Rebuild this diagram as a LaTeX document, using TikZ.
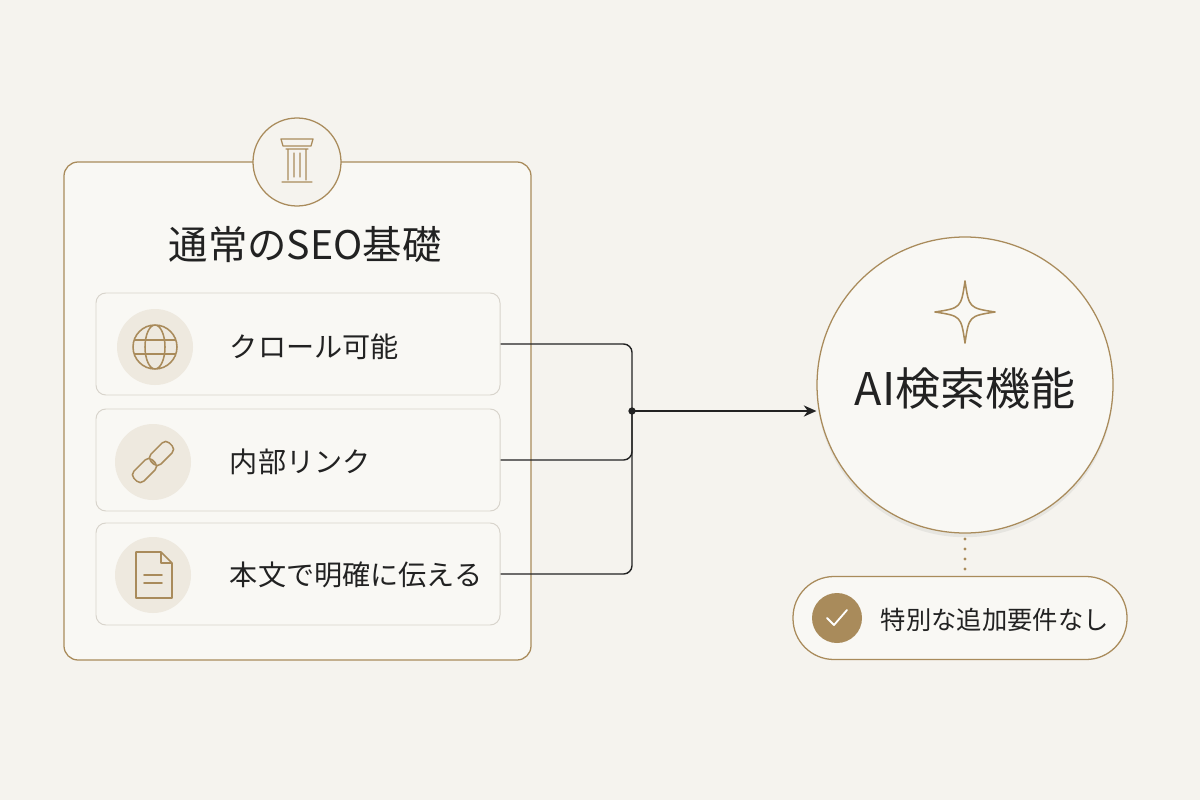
\documentclass[tikz,border=0pt]{standalone}
\usepackage{fontspec}
\setmainfont{Noto Sans CJK JP}
\usetikzlibrary{positioning,shadows,arrows.meta}
\definecolor{bg}{HTML}{F5F3EE}
\definecolor{gold}{HTML}{A98B5B}
\definecolor{cardbg}{HTML}{F9F8F4}
\definecolor{itemline}{HTML}{D8D4CC}
\definecolor{iconbg}{HTML}{EEE9DF}
\definecolor{ink}{HTML}{222222}
\tikzset{
  card/.style={draw=gold,line width=0.9pt,fill=cardbg,rounded corners=10pt},
  item/.style={draw=itemline,line width=0.7pt,fill=cardbg,rounded corners=7pt,minimum width=404*0.025cm,minimum height=102*0.025cm},
  iconbase/.style={circle,fill=iconbg,minimum size=76*0.025cm,inner sep=0pt},
  ic/.style={draw=gold,line width=1.1pt,line cap=round,line join=round},
  label/.style={font=\fontsize{20}{24}\selectfont,text=ink,anchor=west},
  conn/.style={draw=ink,line width=1pt,rounded corners=6pt}
}
\begin{document}
\begin{tikzpicture}[x=0.025cm,y=-0.025cm]
\fill[bg] (0,0) rectangle (1200,800);
\useasboundingbox (0,0) rectangle (1200,800);
% left card
\draw[card] (64,162) rectangle (531,660);
\node[circle,draw=gold,line width=0.9pt,fill=bg,minimum size=88*0.025cm] (top) at (297,162) {};
\draw[ic,line width=0.9pt] (281,139) -- (313,139) -- (311,146) -- (283,146) -- cycle
  (286,149) -- (308,149) (288,149) -- (288,180) (306,149) -- (306,180)
  (294,153) -- (294,177) (300,153) -- (300,177) (282,182) -- (312,182);
\node[font=\fontsize{28}{32}\selectfont,text=ink] (title) at (305,245) {通常のSEO基礎};
% items
\node[item] (crawl) at (298,344) {};
\node[item] (links) at (298,460) {};
\node[item] (text) at (298,574) {};
\node[iconbase] (i1) at (155,347) {};
\node[iconbase] (i2) at (153,462) {};
\node[iconbase] (i3) at (153,575) {};
\begin{scope}[shift={(155,347)}]
  \draw[ic] (0,0) circle (22*0.025cm) (0,0) ellipse (10*0.025cm and 22*0.025cm)
    (-20,-7) -- (20,-7) (-20,7) -- (20,7);
\end{scope}
\begin{scope}[shift={(153,462)},rotate=45]
  \draw[ic,rounded corners=3.5pt] (-25,-7) rectangle (1,7) (-1,-7) rectangle (25,7);
\end{scope}
\begin{scope}[shift={(153,575)}]
  \draw[ic] (-17,-23) -- (8,-23) -- (19,-12) -- (19,23) -- (-17,23) -- cycle
    (8,-23) -- (8,-12) -- (19,-12) (-9,0) -- (9,0) (-9,8) -- (9,8);
\end{scope}
\node[label] at (225,347) {クロール可能};
\node[label] at (225,462) {内部リンク};
\node[label] at (225,575) {本文で明確に伝える};
% right side
\node[circle,draw=gold,line width=0.9pt,fill=cardbg,minimum size=296*0.025cm,drop shadow={opacity=0.12,shadow xshift=0pt,shadow yshift=-3pt}] (ai) at (965,385) {};
\node[font=\fontsize{32}{36}\selectfont,text=ink] (aitext) at (965,388) {AI検索機能};
\begin{scope}[shift={(965,312)}]
  \draw[ic] (0,-31) .. controls (4,-4) .. (30,0) .. controls (4,4) .. (0,31)
    .. controls (-4,4) .. (-30,0) .. controls (-4,-4) .. cycle;
\end{scope}
\node[draw=gold,line width=0.9pt,fill=cardbg,rounded corners=41*0.025cm,minimum width=334*0.025cm,minimum height=83*0.025cm] (pill) at (960,618) {};
\node[circle,fill=gold,minimum size=50*0.025cm] (check) at (837,618) {};
\begin{scope}[shift={(837,618)}]
  \draw[white,line width=1.3pt,line cap=round,line join=round] (-10,0) -- (-3,7) -- (10,-8);
\end{scope}
\node[font=\fontsize{18}{22}\selectfont,text=ink,anchor=west] at (876,620) {特別な追加要件なし};
\foreach \y in {539,549,559,569}
  \fill[gold] (965,\y) circle (1.2pt);
% connectors
\coordinate (join) at (632,411);
\draw[conn] (crawl.east) -| (join);
\draw[conn] (links.east) -| (join);
\draw[conn] (text.east) -| (join);
\fill[ink] (join) circle (2.6pt);
\draw[ink,line width=1pt,-{Stealth[length=9pt,width=8pt]}] (join) -- (join -| ai.west);
\end{tikzpicture}
\end{document}
